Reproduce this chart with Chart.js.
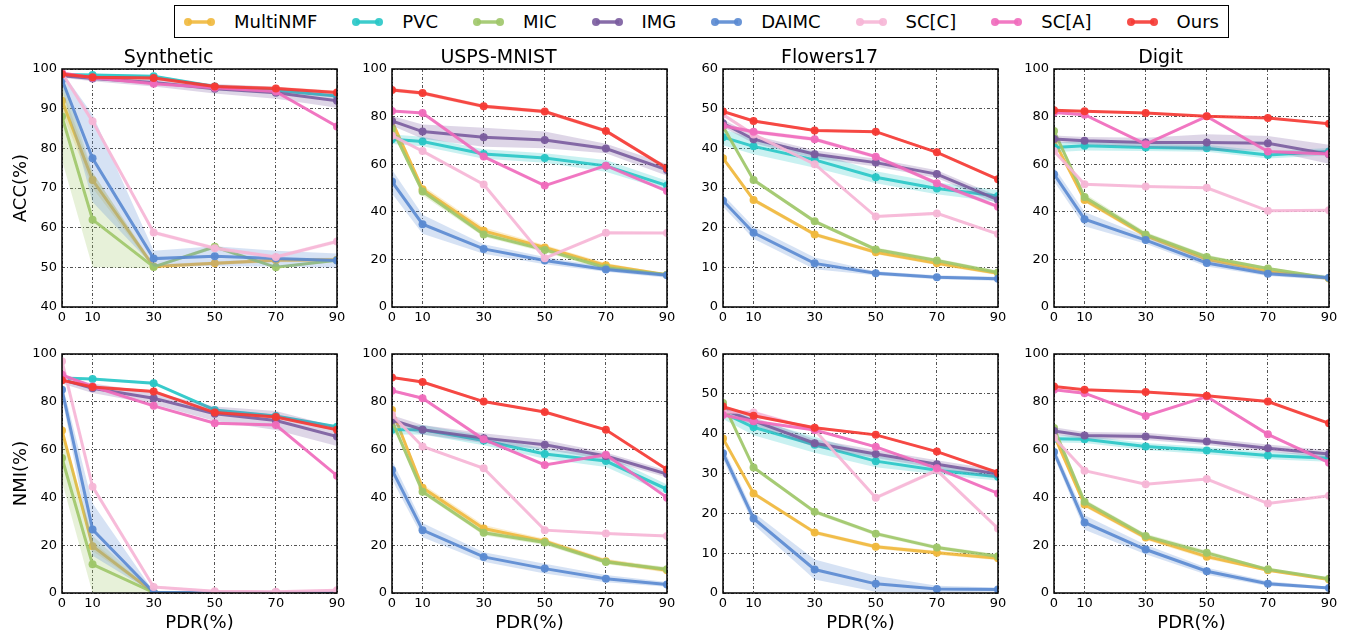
<!DOCTYPE html>
<html><head><meta charset="utf-8">
<script src="https://cdn.jsdelivr.net/npm/chart.js@4.4.0/dist/chart.umd.min.js"></script>
<style>
body{margin:0;background:#fff;width:1353px;height:637px;position:relative;overflow:hidden;font-family:"DejaVu Sans",sans-serif;}
.panel{position:absolute;}
#legend{position:absolute;left:174px;top:5px;height:31px;border:1.5px solid #000;display:flex;align-items:center;padding:0 9px;font-size:18px;white-space:nowrap;color:#000;}
.item{display:flex;align-items:center;margin-right:35px;}
.item:last-child{margin-right:0;}
.item svg{margin-right:19px;}
</style></head><body>
<div id="legend"></div>
<script>
const pdr = [0, 10, 30, 50, 70, 90];
const xTickValues = [0, 10, 30, 50, 70, 90];
const methods = ['MultiNMF', 'PVC', 'MIC', 'IMG', 'DAIMC', 'SC[C]', 'SC[A]', 'Ours'];
const datasetTitles = ['Synthetic', 'USPS-MNIST', 'Flowers17', 'Digit'];
const metricLabels = ['ACC(%)', 'NMI(%)'];
const xAxisLabel = 'PDR(%)';
const accYMin = [40, 0, 0, 0], accYMax = [100, 100, 60, 100], accYStep = [10, 20, 10, 20];
const nmiYMin = [0, 0, 0, 0], nmiYMax = [100, 100, 60, 100], nmiYStep = [20, 20, 10, 20];

// rows: MultiNMF, PVC, MIC, IMG, DAIMC, SC[C], SC[A], Ours
const synAccMean = [
  [92, 72, 50.2, 51, 51.8, 51.9],
  [98.6, 98.5, 98.2, 95.6, 94.6, 93.2],
  [88, 62, 50.1, 55.2, 50, 51.8],
  [98.3, 97.6, 96.6, 95, 94, 92],
  [97.3, 77.5, 52.2, 52.8, 52.2, 51.7],
  [99, 86.8, 58.8, 54.8, 52.6, 56.5],
  [99, 97.8, 96.3, 95.3, 94.3, 85.5],
  [98.7, 97.9, 97.7, 95.6, 95.1, 94.1]];
const synAccStd = [
  [3, 2, 0.5, 0.5, 0.5, 0.5],
  [0.3, 0.3, 0.3, 0.3, 0.3, 0.3],
  [11, 12, 0.3, 0.5, 0.3, 0.3],
  [0.5, 0.7, 1, 1.2, 1.5, 1.8],
  [2, 11, 2, 2.5, 2, 1.8],
  [0.5, 0.5, 0.5, 0.5, 0.5, 0.5],
  [0.3, 0.3, 0.3, 0.3, 0.3, 0.3],
  [0.4, 0.4, 0.4, 0.4, 0.4, 0.4]];
const uspsAccMean = [
  [78, 49.5, 32, 25, 17.5, 13.5],
  [70.5, 69.5, 64.3, 62.6, 59.3, 51],
  [75, 48.5, 30.5, 24, 16.5, 13.5],
  [78.2, 73.7, 71.3, 70.2, 66.6, 57.6],
  [52.7, 34.8, 24.4, 19.5, 15.8, 13.3],
  [72, 65.5, 51.5, 20.5, 31.2, 31.1],
  [82.4, 81.5, 63.2, 51, 59.4, 48.7],
  [91.2, 89.9, 84.3, 82.1, 74, 58.3]];
const uspsAccStd = [
  [1.5, 1.5, 1.5, 1, 1, 0.5],
  [2, 2, 2, 2, 2.5, 2],
  [1, 1.5, 1, 1, 1, 0.5],
  [2, 3, 4, 3.5, 2, 2.5],
  [5, 4, 2, 1.5, 1, 1],
  [0.3, 0.3, 0.3, 0.3, 0.3, 0.3],
  [0.4, 0.4, 0.4, 0.4, 0.4, 0.4],
  [0.8, 0.8, 0.8, 0.8, 0.8, 0.8]];
const flowAccMean = [
  [37.5, 27, 18.3, 13.8, 11, 8.5],
  [42.8, 40.5, 37.1, 32.7, 29.9, 28],
  [45.5, 32, 21.6, 14.5, 11.7, 8.7],
  [46.3, 42.3, 38.5, 36.4, 33.5, 27],
  [26.8, 18.7, 11, 8.5, 7.5, 7.1],
  [48.5, 43.5, 36, 22.8, 23.6, 18.4],
  [45.7, 44.2, 42.3, 37.9, 31.2, 25.3],
  [49.3, 46.9, 44.5, 44.2, 39, 32.2]];
const flowAccStd = [
  [0.5, 0.5, 0.5, 0.5, 0.5, 0.5],
  [2, 2, 2, 1.5, 1.5, 1.5],
  [0.5, 0.5, 0.5, 0.5, 0.5, 0.5],
  [1, 1, 1, 1, 1, 1],
  [1.5, 1.5, 1.5, 0.5, 0.5, 0.5],
  [0.3, 0.3, 0.3, 0.3, 0.3, 0.3],
  [0.5, 0.5, 0.5, 0.5, 0.5, 0.5],
  [0.3, 0.3, 0.3, 0.3, 0.3, 0.3]];
const digitAccMean = [
  [70, 45, 30, 20, 15, 12],
  [67, 67.8, 67, 66.7, 63.9, 65.3],
  [74, 46.2, 30.5, 21, 16.2, 12.2],
  [70.6, 69.9, 69.1, 69.1, 68.8, 64.2],
  [55.8, 36.9, 28.1, 18.5, 14, 12.3],
  [65.5, 51.6, 50.6, 50.1, 40.4, 40.6],
  [81.7, 80.8, 68.4, 80.1, 65.3, 64.3],
  [82.7, 82.2, 81.5, 80.1, 79.4, 77]];
const digitAccStd = [
  [1, 1, 1, 1, 0.5, 0.5],
  [2, 2, 1.5, 1.5, 1.5, 1.5],
  [1, 1.5, 1, 1, 0.5, 0.5],
  [1.5, 1.5, 2, 3.5, 3, 4],
  [3, 3, 1.5, 1.5, 1, 1],
  [0.3, 0.3, 0.3, 0.3, 0.3, 0.3],
  [0.5, 0.5, 0.5, 0.5, 0.5, 0.5],
  [0.4, 0.4, 0.4, 0.4, 0.4, 0.4]];
const synNmiMean = [
  [68, 19.6, 0.2, 0.2, 0.2, 0.2],
  [90, 89.5, 87.8, 76.6, 74.1, 69.6],
  [56.5, 12, 0.2, 0.2, 0.2, 0.2],
  [89.2, 85.7, 81.5, 75, 72.2, 65.5],
  [85, 26.6, 0.3, 0.2, 0.2, 0.2],
  [97, 44.5, 2.5, 0.7, 0.5, 1.1],
  [91.3, 86.4, 78.3, 71, 70.3, 49.1],
  [89, 86.2, 84.3, 75.5, 73.6, 68.3]];
const synNmiStd = [
  [2, 2, 0.2, 0.2, 0.2, 0.2],
  [0.5, 0.5, 0.5, 0.5, 0.5, 0.5],
  [10, 12, 0.2, 0.2, 0.2, 0.2],
  [1.5, 2, 2.5, 3, 4, 4],
  [3, 11, 0.3, 0.2, 0.2, 0.2],
  [1, 1, 0.5, 0.5, 0.5, 0.5],
  [0.5, 0.5, 0.5, 0.5, 0.5, 0.5],
  [0.5, 0.5, 0.5, 0.5, 0.5, 0.5]];
const uspsNmiMean = [
  [76.6, 44, 27, 21.7, 13.3, 9.5],
  [68.3, 68.3, 63.8, 58.2, 55.2, 43.4],
  [72, 42.4, 25.2, 21.1, 13, 9.9],
  [72.4, 68.3, 64.8, 62, 57.3, 49.8],
  [51.5, 26.3, 15.1, 10.2, 6, 3.6],
  [74.5, 61.3, 52.2, 26.3, 24.9, 23.8],
  [84.6, 81.5, 64.3, 53.6, 57.8, 39.9],
  [90.2, 88.3, 80.1, 75.7, 68.3, 51.7]];
const uspsNmiStd = [
  [1.5, 1.5, 1.5, 1, 1, 1],
  [2, 2, 2, 2, 2.5, 2],
  [1, 1, 1, 1, 1, 1],
  [2, 2, 2, 2, 1.5, 1.5],
  [4, 3, 2, 2, 1.5, 1],
  [0.5, 0.5, 0.5, 0.5, 0.5, 0.5],
  [0.5, 0.5, 0.5, 0.5, 0.5, 0.5],
  [0.5, 0.5, 0.5, 0.5, 0.5, 0.5]];
const flowNmiMean = [
  [38.8, 25, 15.2, 11.6, 10.1, 8.7],
  [45.2, 41.6, 37.2, 33.1, 30.8, 29.2],
  [47.7, 31.5, 20.4, 14.9, 11.4, 9.2],
  [46, 43.2, 37.6, 34.9, 32.3, 29.9],
  [35.1, 18.7, 5.9, 2.3, 1, 0.9],
  [45.5, 45.3, 40.9, 23.9, 30.8, 16.2],
  [44.7, 43.1, 40.9, 36.7, 31.3, 25],
  [46.8, 44.5, 41.5, 39.7, 35.5, 30.2]];
const flowNmiStd = [
  [0.5, 0.5, 0.5, 0.5, 0.5, 0.5],
  [1.5, 2, 2, 1.5, 1, 1],
  [0.5, 0.5, 0.5, 0.5, 0.5, 0.5],
  [1, 1, 1, 1, 1, 1],
  [1.5, 1.5, 2.5, 2, 0.8, 0.5],
  [0.5, 0.5, 0.5, 0.5, 0.5, 0.5],
  [0.3, 0.3, 0.3, 0.3, 0.3, 0.3],
  [0.3, 0.3, 0.3, 0.3, 0.3, 0.3]];
const digitNmiMean = [
  [66, 37, 23.2, 15.2, 9.5, 5.6],
  [64.5, 64.3, 61.3, 59.6, 57.5, 56.4],
  [69, 38.2, 23.8, 16.8, 9.9, 6],
  [67.8, 65.9, 65.5, 63.4, 60.6, 58.2],
  [59, 29.5, 18.2, 9.1, 3.9, 2.1],
  [65, 51.2, 45.5, 47.7, 37.5, 40.7],
  [85, 83.6, 74.1, 82.2, 66.4, 54.5],
  [86.4, 85, 84.1, 82.5, 80.1, 71]];
const digitNmiStd = [
  [1, 1, 1, 1, 0.5, 0.5],
  [1.5, 1.5, 1.5, 1.5, 1.5, 1.5],
  [1, 1, 1, 1, 0.5, 0.5],
  [1.5, 1.5, 1.5, 1.5, 1.5, 1.5],
  [2, 3, 2, 1.5, 1, 0.5],
  [0.3, 0.3, 0.3, 0.3, 0.3, 0.3],
  [0.5, 0.5, 0.5, 0.5, 0.5, 0.5],
  [0.4, 0.4, 0.4, 0.4, 0.4, 0.4]];

// ---- styling ----
const FONT = '"DejaVu Sans", sans-serif';
const colors = ['240,184,60', '40,198,198', '158,198,105', '122,92,158', '90,138,210', '246,182,214', '240,108,188', '245,58,52'];
const plotLeft = [62, 392, 723, 1054];
const plotWidth = 275;
const rowTop = [40, 330];
const rowHeight = [287, 307];

// legend
const legendEl = document.getElementById('legend');
methods.forEach((m, i) => {
  const c = colors[i];
  const item = document.createElement('div');
  item.className = 'item';
  item.innerHTML = `<svg width="31" height="10"><line x1="4" y1="5" x2="27" y2="5" stroke="rgba(${c},0.9)" stroke-width="3.5"/><circle cx="4" cy="5" r="4" fill="rgba(${c},0.9)"/><circle cx="27" cy="5" r="4" fill="rgba(${c},0.9)"/></svg><span>${m}</span>`;
  legendEl.appendChild(item);
});

const boxPlugin = {
  id: 'box',
  afterDraw(chart) {
    const a = chart.chartArea, ctx = chart.ctx;
    ctx.save();
    ctx.strokeStyle = '#000';
    ctx.lineWidth = 1.5;
    ctx.strokeRect(a.left, a.top, a.right - a.left, a.bottom - a.top);
    ctx.restore();
  }
};

function buildDatasets(mean, std) {
  const ds = [];
  methods.forEach((m, i) => {
    const c = colors[i];
    const ord = 7 - i;
    ds.push({
      label: m + '_upper',
      data: pdr.map((x, k) => ({x, y: mean[i][k] + std[i][k]})),
      borderWidth: 0, pointRadius: 0, borderColor: 'rgba(0,0,0,0)',
      backgroundColor: `rgba(${c},0.25)`, fill: '+1', order: ord * 2 + 1, clip: 0
    });
    ds.push({
      label: m + '_lower',
      data: pdr.map((x, k) => ({x, y: mean[i][k] - std[i][k]})),
      borderWidth: 0, pointRadius: 0, borderColor: 'rgba(0,0,0,0)',
      fill: false, order: ord * 2 + 1, clip: 0
    });
    ds.push({
      label: m,
      data: pdr.map((x, k) => ({x, y: mean[i][k]})),
      borderColor: `rgba(${c},0.9)`, backgroundColor: `rgba(${c},0.9)`,
      borderWidth: 3, pointRadius: 4, pointBorderWidth: 0,
      pointBackgroundColor: `rgba(${c},0.95)`,
      fill: false, tension: 0, order: ord * 2, clip: 0
    });
  });
  return ds;
}

const panels = [
  [synAccMean, synAccStd], [uspsAccMean, uspsAccStd], [flowAccMean, flowAccStd], [digitAccMean, digitAccStd],
  [synNmiMean, synNmiStd], [uspsNmiMean, uspsNmiStd], [flowNmiMean, flowNmiStd], [digitNmiMean, digitNmiStd]
];

panels.forEach((p, idx) => {
  const row = Math.floor(idx / 4), col = idx % 4;
  const div = document.createElement('div');
  div.className = 'panel';
  const w = plotWidth + 124;
  div.style.left = (plotLeft[col] - 62) + 'px';
  div.style.top = rowTop[row] + 'px';
  const canvas = document.createElement('canvas');
  canvas.width = w; canvas.height = rowHeight[row];
  canvas.style.width = w + 'px'; canvas.style.height = rowHeight[row] + 'px';
  div.appendChild(canvas);
  document.body.appendChild(div);
  const yMin = row === 0 ? accYMin[col] : nmiYMin[col];
  const yMax = row === 0 ? accYMax[col] : nmiYMax[col];
  const yStep = row === 0 ? accYStep[col] : nmiYStep[col];
  new Chart(canvas, {
    type: 'line',
    data: {datasets: buildDatasets(p[0], p[1])},
    options: {
      responsive: false, animation: false, devicePixelRatio: 1,
      layout: {padding: {left: 0, right: 62, top: row === 0 ? 0 : 24, bottom: 0}},
      plugins: {
        legend: {display: false}, tooltip: {enabled: false},
        title: row === 0 ? {display: true, text: datasetTitles[col], color: '#000',
          font: {family: FONT, size: 19, weight: 'normal', lineHeight: 1}, padding: {top: 9, bottom: 1}} : {display: false}
      },
      scales: {
        x: {
          type: 'linear', min: 0, max: 90,
          afterBuildTicks: s => { s.ticks = xTickValues.map(v => ({value: v})); },
          afterFit: s => { s.height = row === 0 ? 20 : 44; },
          ticks: {font: {family: FONT, size: 13}, color: '#000', padding: 3, maxRotation: 0, autoSkip: false},
          grid: {color: 'rgba(0,0,0,0.85)', lineWidth: 0.8, drawTicks: false},
          border: {display: false, dash: [3, 2, 1, 2]},
          title: row === 1 ? {display: true, text: xAxisLabel, color: '#000',
            font: {family: FONT, size: 18, lineHeight: 1}, padding: {top: 0, bottom: 5}} : {display: false}
        },
        y: {
          min: yMin, max: yMax,
          afterFit: s => { s.width = 62; },
          ticks: {stepSize: yStep, font: {family: FONT, size: 13}, color: '#000', padding: 5},
          grid: {color: 'rgba(0,0,0,0.85)', lineWidth: 0.8, drawTicks: false},
          border: {display: false, dash: [3, 2, 1, 2]},
          title: col === 0 ? {display: true, text: metricLabels[row], color: '#000',
            font: {family: FONT, size: 18, lineHeight: 1}, padding: {top: 12, bottom: 0}} : {display: false}
        }
      }
    },
    plugins: [boxPlugin]
  });
});
</script></body></html>
